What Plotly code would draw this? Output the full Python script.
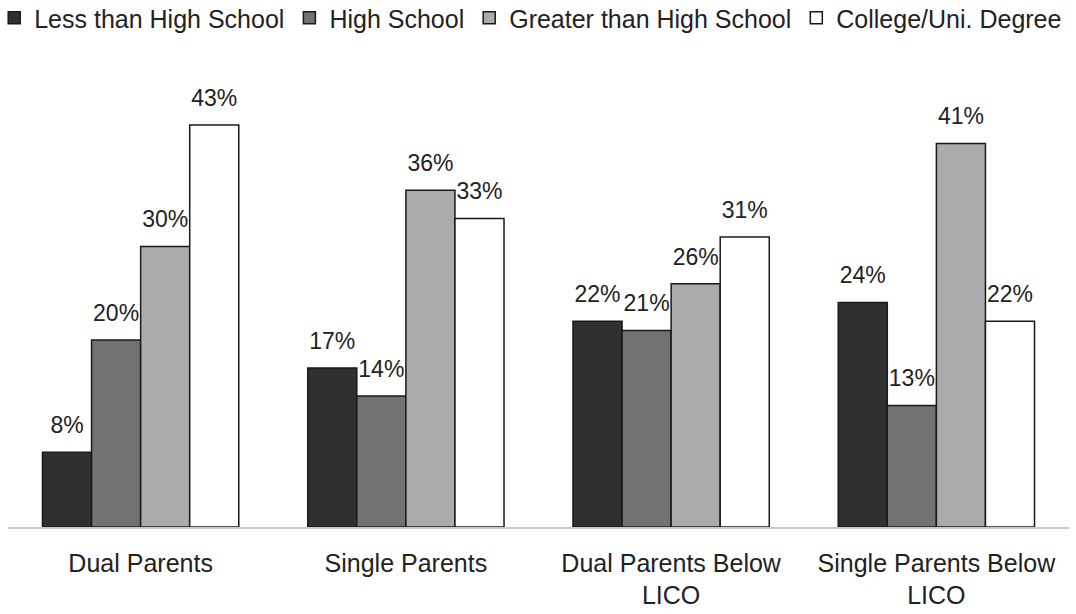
import plotly.graph_objects as go

categories = ["Dual Parents", "Single Parents", "Dual Parents Below<br>LICO", "Single Parents Below<br>LICO"]
series_names = ["Less than High School", "High School", "Greater than High School", "College/Uni. Degree"]
less_than_hs = [8, 17, 22, 24]
high_school = [20, 14, 21, 13]
greater_than_hs = [30, 36, 26, 41]
college_degree = [43, 33, 31, 22]

series_values = [less_than_hs, high_school, greater_than_hs, college_degree]
fill_colors = ["#303030", "#727272", "#ababab", "#ffffff"]
FONT = "Liberation Sans, Arial, sans-serif"
GAP = 0.26

fig = go.Figure()
for i, (name, vals, col) in enumerate(zip(series_names, series_values, fill_colors)):
    fig.add_trace(go.Bar(
        name=name,
        x=categories,
        y=vals,
        offsetgroup=str(i),
        marker=dict(color=col, line=dict(color="#1a1a1a", width=1.5)),
        hoverinfo="skip",
    ))
# value labels sit a little above each bar, grouped the same way as the bars
for i, vals in enumerate(series_values):
    fig.add_trace(go.Scatter(
        x=categories,
        y=vals,
        offsetgroup=str(i),
        mode="markers+text",
        marker=dict(size=20, opacity=0),
        text=[f"{v}%" for v in vals],
        textposition="top center",
        textfont=dict(family=FONT, size=23, color="#222222"),
        showlegend=False,
        cliponaxis=False,
        hoverinfo="skip",
    ))

fig.update_layout(
    width=1076, height=614,
    margin=dict(l=8, r=7, t=80, b=87, autoexpand=False),
    paper_bgcolor="white", plot_bgcolor="white",
    barmode="group", bargap=GAP, bargroupgap=0,
    scattermode="group", scattergap=GAP,
    font=dict(family=FONT, size=22, color="#222222"),
    legend=dict(orientation="h", x=-0.013, y=1.19, xanchor="left", yanchor="top",
                font=dict(family=FONT, size=25, color="#222222"),
                itemwidth=30, tracegroupgap=0, traceorder="normal"),
)
fig.update_xaxes(showline=True, linecolor="#c8c8c8", linewidth=1.5, ticks="",
                 automargin=False, ticklabelstandoff=13,
                 tickfont=dict(family=FONT, size=25, color="#222222"))
fig.update_yaxes(range=[0, 47.8], visible=False, showgrid=False, automargin=False)

fig.write_html("out.html")
